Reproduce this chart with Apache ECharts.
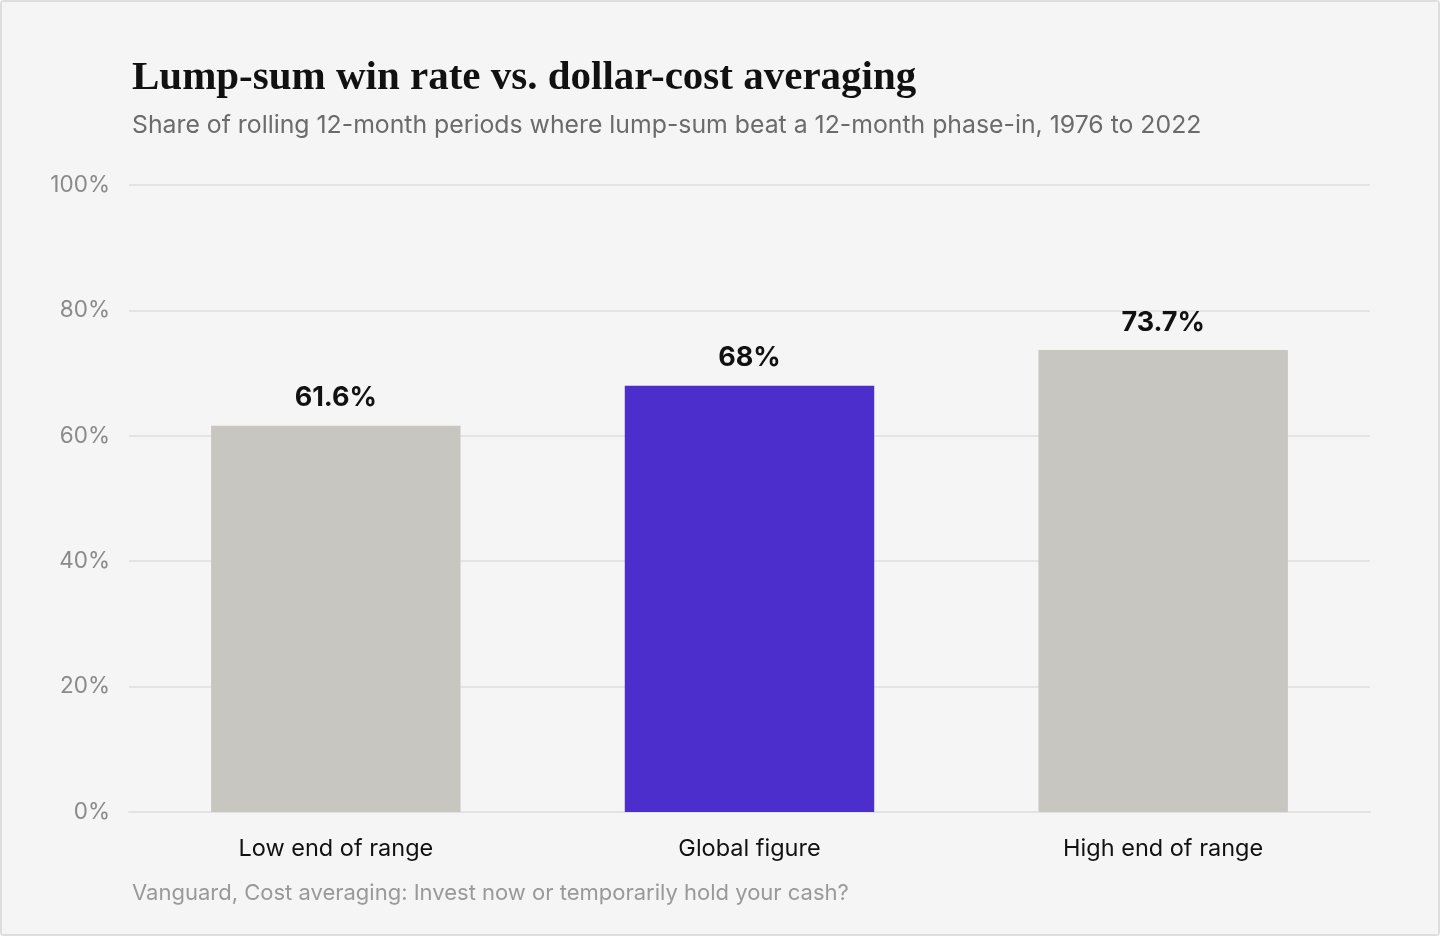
<!DOCTYPE html>
<html>
<head>
<meta charset="utf-8">
<script src="https://cdn.jsdelivr.net/npm/echarts@6/dist/echarts.min.js"></script>
<style>
    html, body {
        margin: 0;
        padding: 0;
        background: #ffffff;
    }
    #chart {
        position: absolute;
        left: 0;
        top: 0;
        width: 1436px;
        height: 932px;
        border: 2px solid #dedede;
        border-radius: 4px;
        background: #f5f5f5;
    }
</style>
</head>
<body>
<div id="chart"></div>
<script>
const categories = ["Low end of range", "Global figure", "High end of range"];
const winRates = [61.6, 68, 73.7];
const highlightIndex = 1;
const yTicks = [0, 20, 40, 60, 80, 100];

// the div has a 2px border, so chart coords are page coords minus 2
let myChart = echarts.init(document.getElementById("chart"));
window.onresize = function () {
    myChart.resize();
};

const sans = "Inter";

myChart.setOption({
    backgroundColor: "#f5f5f5",
    title: [
        {
            text: "Lump-sum win rate vs. dollar-cost averaging",
            left: 125,
            top: 51,
            textStyle: {
                fontFamily: "Liberation Serif",
                fontWeight: "bold",
                fontSize: 41,
                color: "#111111",
            },
        },
        {
            text: "Share of rolling 12-month periods where lump-sum beat a 12-month phase-in, 1976 to 2022",
            left: 125,
            top: 106,
            textStyle: {
                fontFamily: sans,
                fontWeight: "normal",
                fontSize: 24.8,
                color: "#6b6b6b",
            },
        },
        {
            text: "Vanguard, Cost averaging: Invest now or temporarily hold your cash?",
            left: 125,
            top: 875,
            textStyle: {
                fontFamily: sans,
                fontWeight: "normal",
                fontSize: 22,
                color: "#999999",
            },
        },
    ],
    grid: {
        left: 127,
        right: 68,
        top: 183,
        bottom: 932 - 810,
        containLabel: false,
    },
    xAxis: {
        type: "category",
        data: categories,
        axisLine: {
            lineStyle: {
                color: "#e2e2e2",
                width: 2,
            },
        },
        axisTick: {
            show: false,
        },
        axisLabel: {
            color: "#111111",
            fontFamily: sans,
            fontSize: 23.5,
            margin: 25,
        },
    },
    yAxis: {
        type: "value",
        min: yTicks[0],
        max: yTicks[yTicks.length - 1],
        interval: 20,
        axisLine: {
            show: false,
        },
        axisTick: {
            show: false,
        },
        axisLabel: {
            color: "#8a8a8a",
            fontFamily: sans,
            fontSize: 22.5,
            margin: 19,
            formatter: "{value}%",
        },
        splitLine: {
            lineStyle: {
                color: "#e4e4e4",
                width: 2,
            },
        },
    },
    series: [
        {
            type: "bar",
            barWidth: "60.3%",
            data: winRates.map((v, i) => ({
                value: v,
                itemStyle: {
                    color: i === highlightIndex ? "#4b2ecc" : "#c7c6c1",
                },
            })),
            label: {
                show: true,
                position: "top",
                distance: 14,
                color: "#111111",
                fontFamily: sans,
                fontWeight: "bold",
                fontSize: 27,
                formatter: (p) => p.value + "%",
            },
            animation: false,
        },
    ],
    animation: false,
});
</script>
</body>
</html>
